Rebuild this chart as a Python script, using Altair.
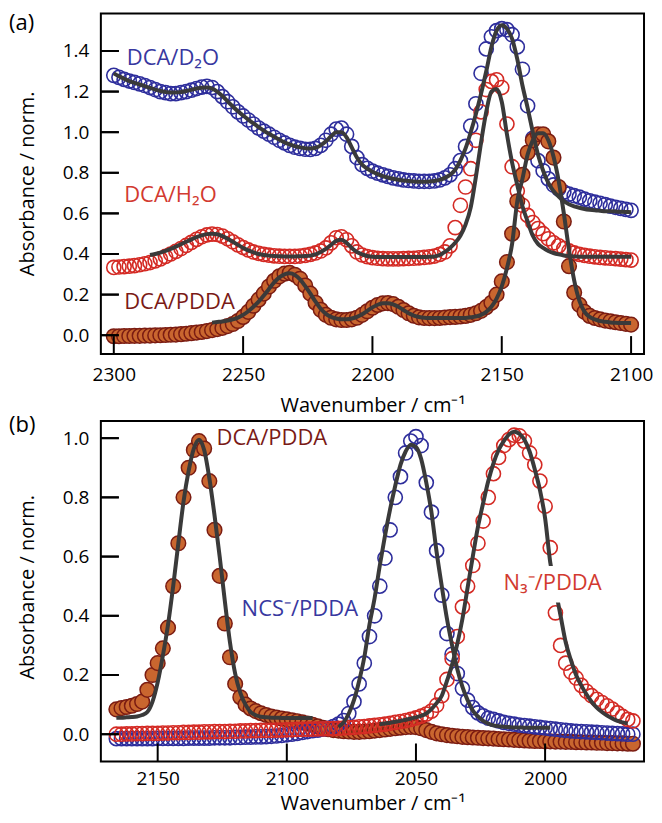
import altair as alt
import pandas as pd

# ---------------- sampling grids (cm-1) ----------------
WN_A = list(range(2300, 2099, -2))
WN_A_RED_FIT = list(range(2286, 2099, -2))
WN_A_BROWN_FIT = list(range(2262, 2099, -2))
WN_B = list(range(2166, 1965, -2))
WN_B_DCA_FIT = list(range(2166, 2089, -2))
WN_B_NCS_FIT = list(range(2080, 1997, -2))
WN_B_N3_FIT = list(range(2064, 1967, -2))

# ---------------- panel (a) ----------------
D2O_A = [1.280, 1.270, 1.260, 1.252, 1.245, 1.238, 1.230, 1.220, 1.210, 1.200,
         1.195, 1.190, 1.190, 1.195, 1.200, 1.207, 1.215, 1.222, 1.226, 1.220,
         1.200, 1.175, 1.150, 1.125, 1.100, 1.080, 1.060, 1.040, 1.020, 1.005,
         0.990, 0.975, 0.960, 0.947, 0.935, 0.926, 0.920, 0.916, 0.915, 0.920,
         0.935, 0.960, 0.990, 1.015, 1.020, 0.990, 0.930, 0.875, 0.840, 0.822,
         0.808, 0.798, 0.790, 0.782, 0.775, 0.770, 0.765, 0.762, 0.760, 0.758,
         0.758, 0.758, 0.760, 0.765, 0.775, 0.790, 0.820, 0.860, 0.930, 1.030,
         1.140, 1.290, 1.410, 1.470, 1.500, 1.510, 1.505, 1.480, 1.420, 1.310,
         1.130, 0.970, 0.860, 0.810, 0.770, 0.740, 0.720, 0.705, 0.695, 0.687,
         0.680, 0.670, 0.662, 0.655, 0.650, 0.643, 0.636, 0.630, 0.625, 0.620,
         0.615]
D2O_A_FIT = [1.290, 1.275, 1.263, 1.252, 1.243, 1.235, 1.227, 1.218, 1.210, 1.203,
             1.198, 1.195, 1.195, 1.198, 1.203, 1.209, 1.215, 1.219, 1.220, 1.215,
             1.200, 1.178, 1.152, 1.127, 1.103, 1.082, 1.062, 1.043, 1.025, 1.008,
             0.992, 0.977, 0.963, 0.950, 0.940, 0.931, 0.925, 0.921, 0.920, 0.923,
             0.935, 0.955, 0.980, 1.000, 1.000, 0.975, 0.925, 0.875, 0.840, 0.820,
             0.805, 0.793, 0.784, 0.777, 0.771, 0.766, 0.762, 0.759, 0.757, 0.756,
             0.756, 0.757, 0.760, 0.765, 0.775, 0.790, 0.815, 0.860, 0.920, 1.000,
             1.090, 1.190, 1.300, 1.420, 1.500, 1.527, 1.510, 1.460, 1.360, 1.230,
             1.120, 1.000, 0.890, 0.810, 0.750, 0.710, 0.683, 0.660, 0.645, 0.635,
             0.628, 0.622, 0.618, 0.615, 0.613, 0.611, 0.610, 0.609, 0.608, 0.607,
             0.606]
H2O_A = [0.334, 0.336, 0.338, 0.340, 0.343, 0.347, 0.352, 0.358, 0.366, 0.376,
         0.388, 0.400, 0.413, 0.427, 0.442, 0.457, 0.472, 0.485, 0.494, 0.498,
         0.496, 0.488, 0.475, 0.460, 0.445, 0.432, 0.420, 0.410, 0.403, 0.398,
         0.394, 0.391, 0.389, 0.388, 0.388, 0.388, 0.390, 0.393, 0.398, 0.405,
         0.415, 0.430, 0.455, 0.480, 0.485, 0.470, 0.440, 0.410, 0.395, 0.387,
         0.382, 0.379, 0.377, 0.376, 0.376, 0.376, 0.377, 0.378, 0.379, 0.381,
         0.383, 0.386, 0.390, 0.398, 0.410, 0.440, 0.530, 0.640, 0.730, 0.820,
         0.960, 1.100, 1.210, 1.250, 1.258, 1.220, 1.040, 0.830, 0.710, 0.640,
         0.590, 0.555, 0.525, 0.500, 0.475, 0.455, 0.440, 0.427, 0.415, 0.405,
         0.398, 0.393, 0.389, 0.386, 0.383, 0.381, 0.379, 0.377, 0.375, 0.372,
         0.370]
H2O_A_FIT = [0.395, 0.400, 0.407, 0.415, 0.425, 0.436, 0.448, 0.460, 0.472, 0.483,
             0.492, 0.498, 0.500, 0.497, 0.488, 0.475, 0.460, 0.445, 0.430, 0.418,
             0.408, 0.400, 0.395, 0.392, 0.390, 0.389, 0.388, 0.388, 0.388, 0.389,
             0.390, 0.392, 0.398, 0.410, 0.425, 0.445, 0.465, 0.470, 0.455, 0.430,
             0.410, 0.398, 0.390, 0.386, 0.385, 0.385, 0.385, 0.385, 0.385, 0.385,
             0.385, 0.385, 0.385, 0.385, 0.386, 0.388, 0.395, 0.410, 0.430, 0.455,
             0.490, 0.545, 0.630, 0.780, 0.950, 1.100, 1.200, 1.213, 1.150, 0.990,
             0.850, 0.740, 0.635, 0.560, 0.490, 0.450, 0.430, 0.415, 0.405, 0.398,
             0.393, 0.390, 0.388, 0.387, 0.386, 0.386, 0.386, 0.386, 0.386, 0.386,
             0.386, 0.386, 0.386, 0.386]
PDDA_A = [-0.005, -0.005, -0.004, -0.004, -0.003, -0.003, -0.002, -0.002, -0.001, 0.000,
          0.001, 0.002, 0.003, 0.005, 0.007, 0.010, 0.013, 0.016, 0.020, 0.025,
          0.030, 0.036, 0.045, 0.055, 0.070, 0.090, 0.115, 0.145, 0.175, 0.205,
          0.240, 0.268, 0.290, 0.303, 0.307, 0.298, 0.278, 0.245, 0.205, 0.160,
          0.125, 0.100, 0.086, 0.078, 0.075, 0.075, 0.078, 0.086, 0.100, 0.118,
          0.135, 0.149, 0.157, 0.158, 0.153, 0.140, 0.124, 0.108, 0.096, 0.088,
          0.085, 0.084, 0.084, 0.085, 0.087, 0.089, 0.090, 0.092, 0.095, 0.100,
          0.108, 0.120, 0.138, 0.160, 0.200, 0.265, 0.360, 0.500, 0.660, 0.790,
          0.900, 0.960, 0.990, 0.990, 0.955, 0.875, 0.730, 0.560, 0.340, 0.210,
          0.150, 0.115, 0.095, 0.085, 0.078, 0.072, 0.068, 0.064, 0.060, 0.056,
          0.052]
PDDA_A_FIT = [0.062, 0.065, 0.068, 0.072, 0.078, 0.087, 0.100, 0.118, 0.140, 0.165,
              0.195, 0.228, 0.260, 0.285, 0.300, 0.305, 0.297, 0.275, 0.242, 0.205,
              0.165, 0.130, 0.105, 0.090, 0.082, 0.078, 0.078, 0.082, 0.090, 0.103,
              0.120, 0.137, 0.150, 0.157, 0.158, 0.152, 0.140, 0.124, 0.108, 0.097,
              0.090, 0.086, 0.085, 0.085, 0.085, 0.085, 0.085, 0.085, 0.085, 0.085,
              0.088, 0.092, 0.100, 0.115, 0.140, 0.180, 0.240, 0.330, 0.450, 0.660,
              0.770, 0.890, 0.960, 0.995, 0.995, 0.960, 0.880, 0.760, 0.600, 0.420,
              0.270, 0.170, 0.115, 0.090, 0.078, 0.070, 0.066, 0.063, 0.061, 0.060,
              0.060, 0.060]

# ---------------- panel (b) ----------------
PDDA_B = [0.084, 0.088, 0.092, 0.096, 0.102, 0.110, 0.150, 0.200, 0.240, 0.290,
          0.360, 0.500, 0.645, 0.800, 0.900, 0.960, 0.990, 0.965, 0.855, 0.690,
          0.535, 0.374, 0.260, 0.170, 0.125, 0.100, 0.087, 0.078, 0.071, 0.065,
          0.060, 0.056, 0.053, 0.050, 0.047, 0.044, 0.040, 0.036, 0.032, 0.027,
          0.022, 0.017, 0.014, 0.012, 0.010, 0.009, 0.008, 0.008, 0.009, 0.010,
          0.012, 0.014, 0.016, 0.018, 0.020, 0.022, 0.024, 0.025, 0.024, 0.020,
          0.014, 0.008, 0.003, 0.000, -0.003, -0.005, -0.007, -0.009, -0.010, -0.011,
          -0.012, -0.013, -0.014, -0.015, -0.016, -0.017, -0.018, -0.019, -0.020, -0.021,
          -0.022, -0.023, -0.023, -0.024, -0.024, -0.025, -0.025, -0.026, -0.026, -0.027,
          -0.027, -0.028, -0.028, -0.029, -0.029, -0.030, -0.030, -0.031, -0.031, -0.032,
          -0.032]
PDDA_B_FIT = [0.056, 0.056, 0.057, 0.058, 0.060, 0.065, 0.075, 0.110, 0.175, 0.265,
              0.370, 0.500, 0.645, 0.785, 0.890, 0.965, 0.995, 0.960, 0.865, 0.740,
              0.600, 0.450, 0.310, 0.205, 0.140, 0.100, 0.075, 0.064, 0.059, 0.057,
              0.056, 0.056, 0.055, 0.055, 0.055, 0.055, 0.055, 0.055, 0.055]
NCS_B = [-0.015, -0.015, -0.015, -0.015, -0.015, -0.015, -0.015, -0.015, -0.014, -0.014,
         -0.014, -0.014, -0.014, -0.014, -0.013, -0.013, -0.013, -0.013, -0.013, -0.012,
         -0.012, -0.012, -0.012, -0.011, -0.011, -0.010, -0.010, -0.009, -0.009, -0.008,
         -0.007, -0.006, -0.004, -0.002, 0.000, 0.003, 0.006, 0.009, 0.012, 0.014,
         0.017, 0.020, 0.026, 0.034, 0.046, 0.070, 0.110, 0.170, 0.240, 0.330,
         0.400, 0.500, 0.595, 0.690, 0.800, 0.870, 0.950, 0.990, 1.005, 0.975,
         0.850, 0.750, 0.620, 0.470, 0.340, 0.270, 0.205, 0.155, 0.115, 0.090,
         0.072, 0.062, 0.054, 0.050, 0.045, 0.040, 0.037, 0.034, 0.031, 0.029,
         0.027, 0.025, 0.023, 0.021, 0.019, 0.017, 0.015, 0.013, 0.011, 0.010,
         0.009, 0.008, 0.007, 0.006, 0.005, 0.004, 0.003, 0.002, 0.001, 0.000,
         0.000]
NCS_B_FIT = [0.025, 0.040, 0.070, 0.115, 0.180, 0.260, 0.370, 0.460, 0.570, 0.670,
             0.760, 0.840, 0.910, 0.955, 0.978, 0.970, 0.930, 0.850, 0.750, 0.615,
             0.500, 0.390, 0.300, 0.220, 0.160, 0.115, 0.080, 0.060, 0.045, 0.036,
             0.030, 0.027, 0.025, 0.024, 0.023, 0.023, 0.022, 0.022, 0.022, 0.022,
             0.022, 0.022]
N3_B = [0.000, 0.000, 0.001, 0.001, 0.002, 0.002, 0.003, 0.003, 0.003, 0.004,
        0.004, 0.005, 0.005, 0.006, 0.006, 0.007, 0.007, 0.008, 0.008, 0.009,
        0.009, 0.009, 0.010, 0.010, 0.011, 0.011, 0.012, 0.012, 0.013, 0.013,
        0.013, 0.014, 0.014, 0.015, 0.015, 0.016, 0.016, 0.017, 0.017, 0.018,
        0.018, 0.019, 0.019, 0.020, 0.021, 0.022, 0.023, 0.025, 0.026, 0.028,
        0.030, 0.032, 0.034, 0.037, 0.040, 0.043, 0.046, 0.050, 0.055, 0.061,
        0.068, 0.078, 0.098, 0.130, 0.185, 0.255, 0.330, 0.430, 0.500, 0.570,
        0.645, 0.720, 0.800, 0.880, 0.935, 0.975, 0.995, 1.010, 1.008, 0.990,
        0.950, 0.910, 0.855, 0.770, 0.630, 0.410, 0.300, 0.240, 0.210, 0.190,
        0.165, 0.145, 0.130, 0.118, 0.107, 0.096, 0.085, 0.072, 0.060, 0.050,
        0.045]
N3_B_FIT = [0.034, 0.036, 0.039, 0.042, 0.045, 0.049, 0.053, 0.057, 0.062, 0.070,
            0.085, 0.105, 0.130, 0.180, 0.235, 0.305, 0.390, 0.495, 0.600, 0.700,
            0.780, 0.855, 0.915, 0.960, 0.990, 1.012, 1.022, 1.015, 0.995, 0.955,
            0.895, 0.825, 0.730, 0.580, 0.490, 0.400, 0.310, 0.250, 0.200, 0.165,
            0.135, 0.110, 0.090, 0.075, 0.063, 0.053, 0.045, 0.040, 0.036]

# ---------------- axes ----------------
XTICKS_A = [2300, 2250, 2200, 2150, 2100]
YTICKS_A = [0.0, 0.2, 0.4, 0.6, 0.8, 1.0, 1.2, 1.4]
XTICKS_B = [2150, 2100, 2050, 2000]
YTICKS_B = [0.0, 0.2, 0.4, 0.6, 0.8, 1.0]

# ---------------- annotation labels ----------------
LABEL_TEXT_A = ["DCA/D₂O", "DCA/H₂O", "DCA/PDDA"]
LABEL_WN_A = [2295.0, 2296.0, 2296.0]
LABEL_V_A = [1.33, 0.655, 0.127]
LABEL_TEXT_B = ["DCA/PDDA", "NCS⁻/PDDA", "N₃⁻/PDDA"]
LABEL_WN_B = [2127.2, 2117.5, 2016.1]
LABEL_V_B = [0.978, 0.398, 0.486]

BLUE = "#2e2e9c"
RED = "#d42a24"
BROWN_FILL = "#c9662f"
BROWN_EDGE = "#7b1c12"
FIT = "#3a3a3a"
TXT_BLUE = "#3838a0"
TXT_RED = "#d23a30"
TXT_BROWN = "#7a1a16"

W = 544
H = 341
TICK = 18  # inward tick length, px


def frame(xs, ys):
    assert len(xs) == len(ys), (len(xs), len(ys))
    return pd.DataFrame({"wn": xs, "v": ys})


def make_panel(xdom, ydom, xticks, yticks, open_series, filled_series, fits, labels,
               tag, tag_y, xlab_pad, xtitle_pad, ytitle_y, order, white_box=None):
    sx = alt.Scale(domain=xdom, reverse=True, nice=False, zero=False)
    sy = alt.Scale(domain=ydom, nice=False, zero=False)
    ax = alt.Axis(values=xticks, format="d", title="Wavenumber / cm⁻¹", ticks=False,
                  labelPadding=xlab_pad, titlePadding=xtitle_pad,
                  domain=False, grid=False)
    ay = alt.Axis(values=yticks, format=".1f", title="Absorbance / norm.", ticks=False,
                  labelPadding=12, titlePadding=25, titleY=ytitle_y,
                  domain=False, grid=False)
    X = alt.X("wn:Q", scale=sx, axis=ax)
    Y = alt.Y("v:Q", scale=sy, axis=ay)
    Xs = alt.X("wn:Q", scale=sx)
    Ys = alt.Y("v:Q", scale=sy)

    layers = []
    point_layers = {}
    for name, (xs, ys, color) in open_series.items():
        point_layers[name] = alt.Chart(frame(xs, ys)).mark_point(
            shape="circle", filled=False, size=200, strokeWidth=1.6, color=color,
            opacity=1).encode(x=X, y=Y)
    for name, (xs, ys) in filled_series.items():
        point_layers[name] = alt.Chart(frame(xs, ys)).mark_point(
            shape="circle", filled=True, size=215, fill=BROWN_FILL, stroke=BROWN_EDGE,
            strokeWidth=1.5, fillOpacity=1, strokeOpacity=1, opacity=1).encode(x=X, y=Y)
    layers += [point_layers[n] for n in order]
    for xs, ys in fits:
        layers.append(alt.Chart(frame(xs, ys)).mark_line(
            color=FIT, strokeWidth=4, interpolate="monotone").encode(x=X, y=Y))
    if white_box is not None:
        bx = pd.DataFrame({"wn": [white_box[0]], "wn2": [white_box[1]],
                           "v": [white_box[2]], "v2": [white_box[3]]})
        layers.append(alt.Chart(bx).mark_rect(color="white", opacity=1).encode(
            x=X, x2="wn2", y=Y, y2="v2"))
    for text, wn, v, color in labels:
        d = pd.DataFrame({"wn": [wn], "v": [v], "t": [text]})
        layers.append(alt.Chart(d).mark_text(
            align="left", baseline="alphabetic", fontSize=22, color=color,
            font="Open Sans").encode(x=X, y=Y, text="t:N"))

    # inward ticks: thin rectangles (18 px long, 2 px thick) at the tick values;
    # px sizes are converted into data units of each scale
    x_left = max(xdom)
    px_x = (max(xdom) - min(xdom)) / W
    px_y = (ydom[1] - ydom[0]) / H
    ytk = pd.DataFrame({"v": [t - px_y for t in yticks],
                        "v2": [t + px_y for t in yticks],
                        "wn": [x_left] * len(yticks),
                        "wn2": [x_left - TICK * px_x] * len(yticks)})
    xtk = pd.DataFrame({"wn": [t + px_x for t in xticks],
                        "wn2": [t - px_x for t in xticks],
                        "v": [ydom[0]] * len(xticks),
                        "v2": [ydom[0] + TICK * px_y] * len(xticks)})
    layers.append(alt.Chart(ytk).mark_rect(color="black", opacity=1).encode(
        x=X, x2="wn2", y=Y, y2="v2"))
    layers.append(alt.Chart(xtk).mark_rect(color="black", opacity=1).encode(
        x=X, x2="wn2", y=Y, y2="v2"))
    # plain rule ticks as well (same places)
    ytk2 = pd.DataFrame({"v": yticks, "wn": [x_left] * len(yticks),
                         "wn2": [x_left - TICK * px_x] * len(yticks)})
    layers.append(alt.Chart(ytk2).mark_rule(color="black", strokeWidth=2).encode(
        x=Xs, x2="wn2", y=Ys))

    tagdf = pd.DataFrame({"t": [tag]})
    layers.append(alt.Chart(tagdf).mark_text(
        align="left", baseline="middle", fontSize=22, color="black",
        font="Open Sans").encode(x=alt.value(-92), y=alt.value(tag_y), text="t:N"))
    return alt.layer(*layers).properties(width=W, height=H)


panel_a = make_panel(
    [2095, 2305], [-0.093, 1.584], XTICKS_A, YTICKS_A,
    {"d2o": (WN_A, D2O_A, BLUE), "h2o": (WN_A, H2O_A, RED)},
    {"pdda": (WN_A, PDDA_A)},
    [(WN_A, D2O_A_FIT), (WN_A_RED_FIT, H2O_A_FIT), (WN_A_BROWN_FIT, PDDA_A_FIT)],
    [(LABEL_TEXT_A[0], LABEL_WN_A[0], LABEL_V_A[0], TXT_BLUE),
     (LABEL_TEXT_A[1], LABEL_WN_A[1], LABEL_V_A[1], TXT_RED),
     (LABEL_TEXT_A[2], LABEL_WN_A[2], LABEL_V_A[2], TXT_BROWN)],
    "(a)", 9, 11, 12, 170, ["d2o", "h2o", "pdda"])

panel_b = make_panel(
    [1961.7, 2172.0], [-0.092, 1.058], XTICKS_B, YTICKS_B,
    {"ncs": (WN_B, NCS_B, BLUE), "n3": (WN_B, N3_B, RED)},
    {"pdda": (WN_B, PDDA_B)},
    [(WN_B_DCA_FIT, PDDA_B_FIT), (WN_B_NCS_FIT, NCS_B_FIT), (WN_B_N3_FIT, N3_B_FIT)],
    [(LABEL_TEXT_B[0], LABEL_WN_B[0], LABEL_V_B[0], TXT_BROWN),
     (LABEL_TEXT_B[1], LABEL_WN_B[1], LABEL_V_B[1], TXT_BLUE),
     (LABEL_TEXT_B[2], LABEL_WN_B[2], LABEL_V_B[2], TXT_RED)],
    "(b)", 4, 8, 5, 166, ["pdda", "ncs", "n3"],
    white_box=(2017.5, 1977.0, 0.445, 0.568))

chart = alt.vconcat(panel_a, panel_b, spacing=67, bounds="flush").properties(
    padding={"left": 0, "top": 2, "right": 0, "bottom": 0}
).configure_view(stroke="black", strokeWidth=2).configure_axis(
    labelFont="Open Sans", titleFont="Open Sans", labelFontSize=19, titleFontSize=20,
    titleFontWeight="normal", labelColor="black", titleColor="black"
)

chart.save("out.html", embed_options={"renderer": "svg", "actions": False})
